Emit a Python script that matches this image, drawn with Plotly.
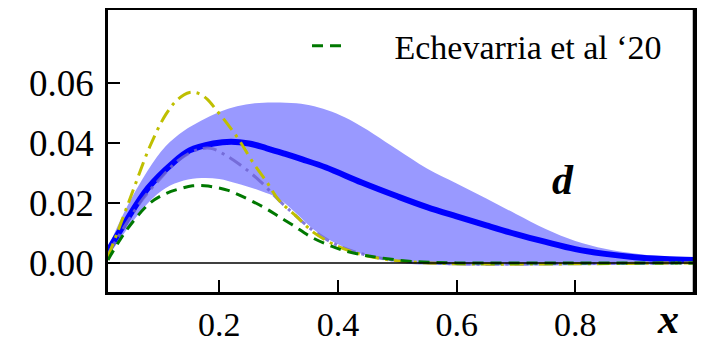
import plotly.graph_objects as go

# central curve
x_central = [0.0125, 0.04, 0.08, 0.12, 0.15, 0.19, 0.22, 0.25, 0.28, 0.31, 0.34, 0.38, 0.44, 0.50, 0.55, 0.60, 0.65, 0.70, 0.75, 0.80, 0.85, 0.90, 0.95, 1.0]
y_central = [0.004, 0.013, 0.025, 0.033, 0.0375, 0.0398, 0.0404, 0.0398, 0.0382, 0.0364, 0.0345, 0.0318, 0.0268, 0.0222, 0.0186, 0.0155, 0.0125, 0.0096, 0.0070, 0.0046, 0.0030, 0.0019, 0.0013, 0.001]

# band upper
x_upper = [0.0125, 0.04, 0.08, 0.11, 0.14, 0.17, 0.20, 0.23, 0.26, 0.29, 0.33, 0.36, 0.39, 0.42, 0.46, 0.50, 0.55, 0.60, 0.65, 0.70, 0.75, 0.80, 0.85, 0.90, 0.95, 1.0]
y_upper = [0.005, 0.017, 0.031, 0.039, 0.044, 0.0475, 0.0503, 0.0522, 0.0532, 0.0535, 0.0532, 0.0522, 0.0504, 0.0477, 0.0430, 0.0378, 0.0315, 0.0265, 0.0215, 0.0163, 0.0113, 0.0073, 0.0047, 0.0031, 0.0020, 0.0015]

# band lower
x_lower = [0.0125, 0.04, 0.08, 0.11, 0.14, 0.17, 0.20, 0.23, 0.27, 0.30, 0.33, 0.36, 0.40, 0.44, 0.48, 0.52, 0.60, 0.70, 0.80, 0.90, 1.0]
y_lower = [0.002, 0.010, 0.020, 0.025, 0.0275, 0.0283, 0.028, 0.0265, 0.024, 0.0215, 0.0165, 0.011, 0.0062, 0.003, 0.001, -0.0003, -0.0008, -0.0009, -0.0008, -0.0006, -0.0003]

# yellow dash-dot
x_yellow = [0.0125, 0.03, 0.055, 0.083, 0.11, 0.13, 0.15, 0.165, 0.18, 0.195, 0.215, 0.235, 0.255, 0.28, 0.30, 0.33, 0.36, 0.40, 0.44, 0.48, 0.55, 0.65, 0.8, 1.0]
y_yellow = [0.002, 0.011, 0.0243, 0.0388, 0.0495, 0.0545, 0.0568, 0.0565, 0.0545, 0.051, 0.046, 0.0405, 0.034, 0.027, 0.021, 0.0155, 0.010, 0.0055, 0.0028, 0.0012, 0.0, -0.0004, -0.0003, 0.0]

# purple dash-dot
x_purple = [0.0125, 0.04, 0.07, 0.10, 0.13, 0.16, 0.185, 0.21, 0.24, 0.27, 0.30, 0.33, 0.36, 0.40, 0.45, 0.50, 0.6, 0.8, 1.0]
y_purple = [0.003, 0.012, 0.021, 0.028, 0.034, 0.0375, 0.0382, 0.036, 0.032, 0.027, 0.021, 0.0155, 0.0105, 0.0058, 0.0025, 0.0008, -0.0003, -0.0002, 0.0]

# Echevarria et al '20 (green dashed)
x_green = [0.0125, 0.044, 0.083, 0.111, 0.135, 0.155, 0.175, 0.194, 0.215, 0.233, 0.255, 0.278, 0.30, 0.323, 0.356, 0.39, 0.412, 0.44, 0.468, 0.524, 0.6, 0.8, 1.0]
y_green = [0.001, 0.011, 0.0199, 0.0232, 0.0248, 0.0257, 0.0257, 0.0252, 0.0242, 0.0227, 0.0206, 0.0182, 0.0155, 0.0127, 0.0085, 0.0055, 0.0040, 0.0027, 0.0018, 0.0005, 0.0, 0.0, 0.0]

x_ticks = [0.2, 0.4, 0.6, 0.8]
x_ticklabels = ["0.2", "0.4", "0.6", "0.8"]
y_ticks = [0.0, 0.02, 0.04, 0.06]
y_ticklabels = ["0.00", "0.02", "0.04", "0.06"]
legend_label = "Echevarria et al ‘20"

SERIF = "'Liberation Serif', 'Times New Roman', serif"

fig = go.Figure()
fig.add_trace(go.Scatter(x=x_lower, y=y_lower, mode="lines", line=dict(width=0, shape="spline", color="rgba(0,0,0,0)"),
                         showlegend=False, hoverinfo="skip"))
fig.add_trace(go.Scatter(x=x_upper, y=y_upper, mode="lines", line=dict(width=0, shape="spline", color="rgba(0,0,0,0)"),
                         fill="tonextx", fillcolor="rgb(153,153,255)", showlegend=False, hoverinfo="skip"))
fig.add_trace(go.Scatter(x=x_central, y=y_central, mode="lines", line=dict(color="#0000ff", width=6, shape="spline"),
                         showlegend=False))
fig.add_trace(go.Scatter(x=x_purple, y=y_purple, mode="lines",
                         line=dict(color="rgba(110,100,210,0.85)", width=3, shape="spline", dash="14px,6px,3px,6px"),
                         showlegend=False))
fig.add_trace(go.Scatter(x=x_yellow, y=y_yellow, mode="lines",
                         line=dict(color="rgb(191,191,0)", width=3, shape="spline", dash="14px,6px,3px,6px"),
                         showlegend=False))
fig.add_trace(go.Scatter(x=x_green, y=y_green, mode="lines", name="\u00a0" * 5 + legend_label,
                         line=dict(color="rgb(0,120,0)", width=3, shape="spline", dash="11px,7px")))

fig.add_hline(y=0, line=dict(color="black", width=1.5))
# right edge of the frame
fig.add_shape(type="line", xref="paper", yref="paper", x0=1, x1=1, y0=0, y1=1, layer="above",
              line=dict(color="black", width=2.5))

fig.update_xaxes(range=[0.0125, 1.0], tickvals=x_ticks, ticktext=x_ticklabels, ticks="inside", ticklen=12,
                 tickwidth=2, tickcolor="black", showline=True, linecolor="black", linewidth=2.5, mirror=True,
                 showgrid=False, zeroline=False, automargin=False,
                 tickfont=dict(family=SERIF, size=34, color="black"))
fig.update_yaxes(range=[-0.0097, 0.0843], tickvals=y_ticks, ticktext=y_ticklabels, ticks="inside", ticklen=12,
                 tickwidth=2, tickcolor="black", showline=True, linecolor="black", linewidth=2.5, mirror=True,
                 showgrid=False, zeroline=False, automargin=False, ticklabelstandoff=4,
                 tickfont=dict(family=SERIF, size=37, color="black"))

fig.add_annotation(x=0.78, y=0.0277, xref="x", yref="y", text="<b><i>d</i></b>", showarrow=False,
                   font=dict(family=SERIF, size=42, color="black"))
fig.add_annotation(x=0.956, y=-0.096, xref="paper", yref="paper", xanchor="center", yanchor="middle",
                   text="<b><i>x</i></b>", showarrow=False,
                   font=dict(family=SERIF, size=42, color="black"))

# page body has an 8px default margin: offset the figure so the plot area lands where the reference has it
fig.update_layout(
    width=690, height=336,
    margin=dict(l=100, r=4, t=2, b=52, autoexpand=False),
    paper_bgcolor="white", plot_bgcolor="white",
    legend=dict(x=0.3396, y=0.975, xanchor="left", yanchor="top", bgcolor="rgba(0,0,0,0)", itemwidth=35,
                font=dict(family=SERIF, size=34, color="black")),
)

fig.write_html("out.html")
